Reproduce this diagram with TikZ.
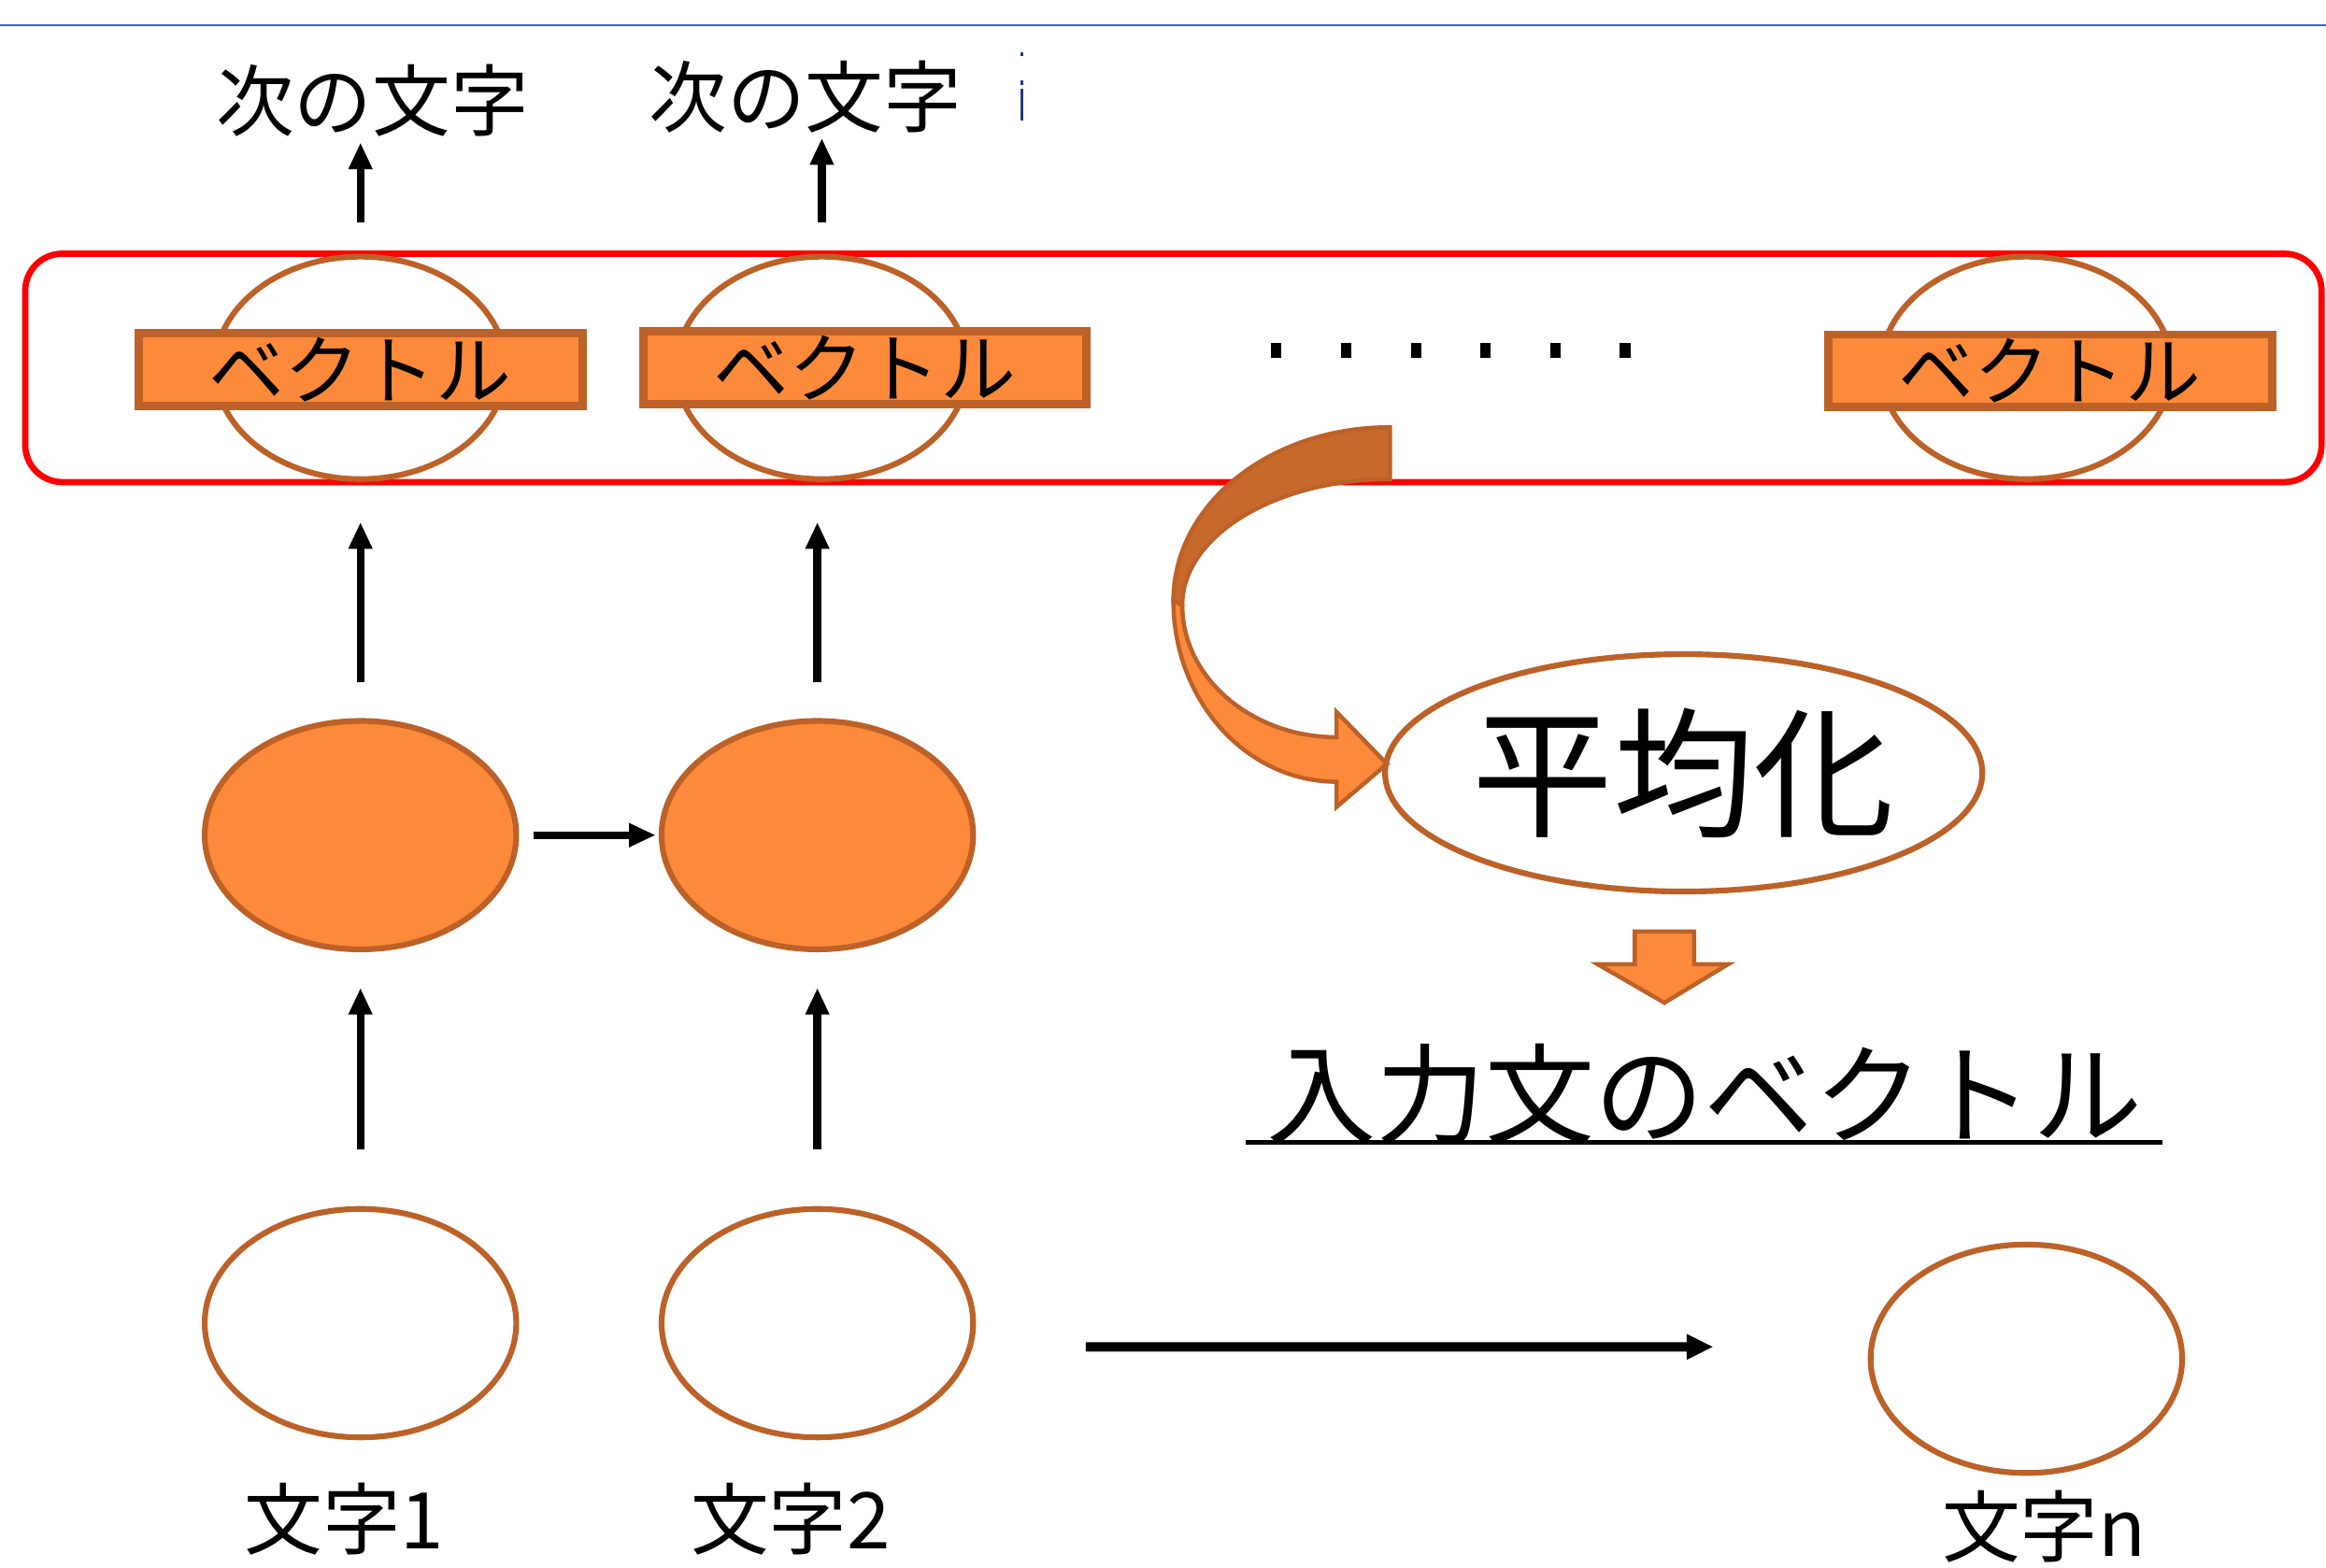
\documentclass[tikz,border=0pt]{standalone}
\usepackage{fontspec}
\setmainfont{Noto Sans CJK JP}
\usepackage{tikz}
\usetikzlibrary{shapes.geometric,arrows.meta}
\definecolor{orangefill}{HTML}{FD8A3A}
\definecolor{brownline}{HTML}{BC6128}
\definecolor{backfill}{HTML}{C8692C}
\definecolor{rulerblue}{HTML}{3366CC}

\begin{document}
\begin{tikzpicture}
  [x=0.1mm,y=-0.1mm,
   word/.style={inner sep=0,font=\fontsize{15pt}{18pt}\selectfont},
   cell/.style={ellipse,draw=brownline,line width=1.1pt,inner sep=0,
                minimum width=21mm,minimum height=15.4mm},
   hidden/.style={cell,fill=orangefill},
   vecring/.style={ellipse,draw=brownline,line width=1.1pt,inner sep=0,
                   minimum width=19.6mm,minimum height=15mm},
   vecbar/.style={rectangle,draw=brownline,fill=orangefill,line width=1.6pt,
                  inner sep=0,minimum width=29.9mm,minimum height=4.9mm,
                  font=\fontsize{14.5pt}{16pt}\selectfont},
   arr/.style={line width=1.5pt,-{Triangle[length=1.8mm,width=1.5mm]}},
   longarr/.style={line width=1.8pt,-{Triangle[length=1.8mm,width=1.6mm]}}]
  \useasboundingbox (0,0) rectangle (1568,1057);
  \draw[rulerblue,line width=0.5pt] (0,17) -- (1568,17);
  \draw[rulerblue!60!black,line width=0.6pt] (689,35) -- (689,38)
    (689,54) -- (689,57) (689,60) -- (689,81);
  % output row
  \node[word] (next1) at (251,68) {次の文字};
  \node[word] (next2) at (543,65) {次の文字};
  \draw[red,line width=1.2pt,rounded corners=2.5mm] (17,171) rectangle (1565,325);
  \node[vecring] (vr1) at (243,248) {};
  \node[vecring] (vr2) at (554,248) {};
  \node[vecring] (vr3) at (1366,248) {};
  \node[vecbar] (vb1) at (243,249) {ベクトル};
  \node[vecbar] (vb2) at (583,248) {ベクトル};
  \node[vecbar] (vb3) at (1382,250) {ベクトル};
  \foreach \i in {0,...,5}
    \fill (857+\i*47,231) rectangle ++(7,10);
  % hidden and input rows
  \node[hidden] (rnn1) at (243,563) {};
  \node[hidden] (rnn2) at (551,563) {};
  \node[cell] (char1) at (243,892) {};
  \node[cell] (char2) at (551,892) {};
  \node[cell] (charn) at (1366,916) {};
  \node[word] (in1) at (232,1024) {文字1};
  \node[word] (in2) at (533,1024) {文字2};
  \node[word] (inn) at (1378,1029) {文字n};
  \draw[arr,shorten <=2.1mm,shorten >=0.3mm] (vr1.north) -- (vr1.north |- next1.south);
  \draw[arr,shorten <=2.1mm,shorten >=0.3mm] (vr2.north) -- (vr2.north |- next2.south);
  \draw[arr,shorten <=2.4mm,shorten >=2.7mm] (rnn1.north) -- (rnn1.north |- vr1.south);
  \draw[arr,shorten <=2.4mm,shorten >=2.7mm] (rnn2.north) -- (rnn2.north |- vr2.south);
  \draw[arr,shorten <=3.8mm,shorten >=2.4mm] (char1) -- (rnn1);
  \draw[arr,shorten <=3.8mm,shorten >=2.4mm] (char2) -- (rnn2);
  \draw[arr,shorten <=1mm,shorten >=0.2mm] (rnn1) -- (rnn2);
  \draw[longarr] ([xshift=7.4mm,yshift=-1.6mm]char2.east)
    -- ([xshift=-10.4mm,yshift=0.8mm]charn.west);
  % averaging
  \filldraw[draw=brownline,fill=backfill,line width=0.8pt]
    (937,288) .. controls (856,288) and (791,340) .. (791,405)
    -- (797,408) .. controls (797,361) and (860,323) .. (937,323) -- cycle;
  \filldraw[draw=brownline,fill=orangefill,line width=0.8pt]
    (791,405) .. controls (791,472) and (840,527) .. (901,527)
    -- (901,544) -- (935,515) -- (901,480) -- (901,497)
    .. controls (844,497) and (797,457) .. (797,408) -- cycle;
  \node[ellipse,draw=brownline,line width=1.1pt,inner sep=0,
        minimum width=40mm,minimum height=16mm,
        font=\fontsize{27pt}{30pt}\selectfont] (avg) at (1135,521) {平均化};
  \filldraw[draw=brownline,fill=orangefill,line width=0.8pt]
    (1102,628) -- (1142,628) -- (1142,650) -- (1165,650) -- (1122,676)
    -- (1077,650) -- (1102,650) -- cycle;
  \node[inner sep=0,font=\fontsize{21pt}{24pt}\selectfont] (sent) at (1149,738)
    {入力文のベクトル};
  \draw[line width=0.9pt] (840,770) -- (1458,770);
\end{tikzpicture}
\end{document}
